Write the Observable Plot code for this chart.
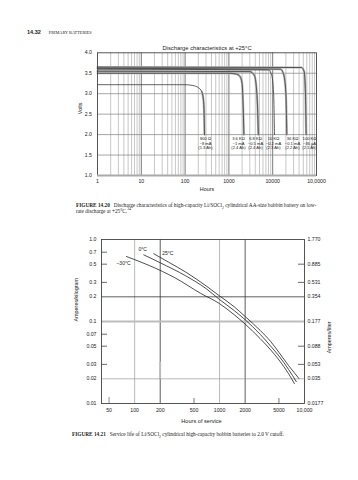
<!DOCTYPE html>
<html>
<head>
<meta charset="utf-8">
<script src="https://cdn.jsdelivr.net/npm/d3@7"></script>
<script src="https://cdn.jsdelivr.net/npm/@observablehq/plot@0.6"></script>
<style>
  html,body{margin:0;padding:0;background:#fff;}
  #page{position:relative;width:358px;height:480px;overflow:hidden;color:#222;}
  #page svg{position:absolute;left:0;}
  .t{position:absolute;white-space:nowrap;line-height:6px;color:#222;}
  .serif{font-family:"Liberation Serif","Times New Roman",serif;}
  .sans{font-family:"Liberation Sans",Arial,sans-serif;}
  sub,sup{font-size:70%;line-height:0;}
</style>
</head>
<body>
<div id="page">
  <div class="t" style="left:27px;top:26px;"><span class="sans" style="font-weight:bold;font-size:5.5px;">14.32</span><span class="serif" style="font-size:4.3px;margin-left:8px;">PRIMARY BATTERIES</span></div>
  <div class="t serif" style="left:76px;top:202px;font-size:5.3px;"><b>FIGURE 14.20</b>&nbsp;&nbsp; Discharge characteristics of high-capacity Li/SOCl<sub>2</sub> cylindrical AA-size bobbin battery on low-<br>rate discharge at +25°C.<sup>34</sup></div>
  <div class="t serif" style="left:72px;top:431px;font-size:5.3px;"><b>FIGURE 14.21</b>&nbsp;&nbsp; Service life of Li/SOCl<sub>2</sub> cylindrical high-capacity bobbin batteries to 2.0 V cutoff.</div>
</div>
<script>
// ---------- Figure 14.20 data ----------
const loads      = ["800 Ω", "3.6 KΩ", "6.8 KΩ", "10 KΩ", "36 KΩ", "100 KΩ"];
const currents   = ["~8 mA", "~1 mA", "~0.5 mA", "~0.2 mA", "~0.1 mA", "~36 µA"];
const capacities = ["(1.3 Ah)", "(2.4 Ah)", "(2.4 Ah)", "(2.3 Ah)", "(2.2 Ah)", "(2.1 Ah)"];
const curve800  = [[1,3.22],[100,3.22],[150,3.2],[200,3.15],[240,3.05],[262,2.85],[272,2.5],[277,2.0]];
const curve3k6  = [[1,3.5],[1000,3.5],[1500,3.48],[1800,3.42],[2000,3.25],[2100,2.8],[2200,2.0]];
const curve6k8  = [[1,3.55],[3000,3.54],[3800,3.45],[4200,3.2],[4500,2.7],[4700,2.0]];
const curve10k  = [[1,3.6],[8000,3.58],[9500,3.45],[10500,3.0],[11000,2.0]];
const curve36k  = [[1,3.62],[15000,3.6],[18000,3.45],[20000,3.0],[21000,2.0]];
const curve100k = [[1,3.65],[45000,3.64],[52000,3.55],[56000,3.0],[58000,2.0]];
const labelHours = [292, 1656, 4050, 10400, 28300, 69200];
const hourTicks = [1, 10, 100, 1000, 10000, 100000];
const hourTickLabels = ["1", "10", "100", "1000", "10000", "10,0000"];
const voltTicks = [1.0, 1.5, 2.0, 2.5, 3.0, 3.5, 4.0];

// ---------- Figure 14.21 data ----------
const tempLabels = ["25°C", "0°C", "–30°C"];
const life25  = [[168,0.67],[250,0.53],[400,0.40],[700,0.27],[1000,0.205],[1500,0.15],[2000,0.115],[3000,0.078],[4000,0.057],[5000,0.042],[6500,0.029],[8600,0.0202]];
const life0   = [[128,0.65],[200,0.52],[400,0.36],[700,0.25],[1000,0.185],[1500,0.135],[2000,0.105],[3000,0.07],[4000,0.05],[5000,0.038],[6500,0.026],[8000,0.0185]];
const lifeM30 = [[80,0.62],[150,0.48],[300,0.34],[600,0.22],[1000,0.165],[1500,0.12],[2000,0.093],[3000,0.062],[4000,0.045],[5000,0.034],[6500,0.023],[7600,0.0175]];
const serviceTicks = [50, 100, 200, 500, 1000, 2000, 5000, 10000];
const serviceTickLabels = ["50", "100", "200", "500", "1000", "2000", "5000", "10,000"];
const akgTicks = [1.0, 0.7, 0.5, 0.3, 0.2, 0.1, 0.07, 0.05, 0.03, 0.02, 0.01];
const akgTickLabels = ["1.0", "0.7", "0.5", "0.3", "0.2", "0.1", "0.07", "0.05", "0.03", "0.02", "0.01"];
const alTicksAkg = [1.0, 0.5, 0.3, 0.2, 0.1, 0.05, 0.03, 0.02, 0.01];
const alTickLabels = ["1.770", "0.885", "0.531", "0.354", "0.177", "0.088", "0.053", "0.035", "0.0177"];

const FONT = "Liberation Sans, Arial, Helvetica, sans-serif";
const page = document.getElementById("page");

// ---------- Top chart ----------
const curvesTop = [curve800, curve3k6, curve6k8, curve10k, curve36k, curve100k];
const topRows = curvesTop.flatMap((c, i) => c.map(([h, v]) => ({load: loads[i], h, v})));
const underlayRows = topRows.filter(d => d.load !== "10 KΩ" && (d.load !== "800 Ω" || d.h >= 240));
const minorHours = d3.range(0, 5).flatMap(k => d3.range(2, 10).map(m => m * 10 ** k));
const labelRows = loads.map((l, i) => ({at: labelHours[i], label: l + "\n" + currents[i] + "\n" + capacities[i]}));
const hourTickRows = hourTicks.map((h, i) => ({h, label: hourTickLabels[i]}));

const topPlot = Plot.plot({
  width: 358, height: 200,
  marginTop: 52.3, marginBottom: 25, marginLeft: 97, marginRight: 42,
  x: {type: "log", domain: [1, 100000], axis: null},
  y: {domain: [1, 4], axis: null},
  style: {fontFamily: FONT, fontSize: "5.2px", color: "#222", background: "none", overflow: "visible"},
  marks: [
    Plot.ruleX(minorHours, {stroke: "#9a9a9a", strokeWidth: 0.55}),
    Plot.ruleX([10, 100, 1000, 10000], {stroke: "#555", strokeWidth: 0.8}),
    Plot.ruleY([1.5, 2, 2.5, 3, 3.5], {stroke: "#808080", strokeWidth: 0.7}),
    Plot.line(underlayRows, {x: "h", y: "v", z: "load", stroke: "#b4b4b4", strokeWidth: 2.2, curve: "monotone-x"}),
    Plot.line(topRows, {x: "h", y: "v", z: "load", stroke: "#333", strokeWidth: 0.75, curve: "monotone-x"}),
    Plot.frame({stroke: "#444", strokeWidth: 0.9}),
    Plot.ruleY([1], {stroke: "#aaa", strokeWidth: 2}),
    Plot.tickY(voltTicks, {y: d => d, insetRight: 219, dx: -4, stroke: "#444", strokeWidth: 0.8}),
    Plot.text(voltTicks, {y: d => d, text: d => d.toFixed(1), frameAnchor: "left", dx: -5.5, textAnchor: "end"}),
    Plot.text(hourTickRows, {x: "h", text: "label", frameAnchor: "bottom", dy: 7}),
    Plot.text(["Volts"], {text: d => d, frameAnchor: "left", dx: -17.5, rotate: -90, fontSize: 5.4}),
    Plot.text(["Hours"], {text: d => d, frameAnchor: "bottom", dy: 15, fontSize: 5.4}),
    Plot.text(["Discharge characteristics at +25°C"], {text: d => d, frameAnchor: "top", dy: -7, fontSize: 5.8}),
    Plot.text(labelRows, {x: "at", text: "label", frameAnchor: "top", dy: 83.7, lineAnchor: "top", lineHeight: 1.16, fontSize: 4.1})
  ]
});
topPlot.style.top = "0px";
page.appendChild(topPlot);

// ---------- Bottom chart ----------
const lifeCurves = [life25, life0, lifeM30];
const lifeRows = lifeCurves.flatMap((c, i) => c.map(([h, a]) => ({temp: tempLabels[i], h, a})));
const serviceTickRows = serviceTicks.map((h, i) => ({h, label: serviceTickLabels[i]}));
const akgRows = akgTicks.map((a, i) => ({a, label: akgTickLabels[i]}));
const alRows = alTicksAkg.map((a, i) => ({a, label: alTickLabels[i]}));

const botPlot = Plot.plot({
  width: 358, height: 200,
  marginTop: 14, marginBottom: 22, marginLeft: 101, marginRight: 54,
  x: {type: "log", domain: [40.7, 10000], axis: null},
  y: {type: "log", domain: [0.01, 1], axis: null},
  style: {fontFamily: FONT, fontSize: "5.2px", color: "#222", background: "none", overflow: "visible"},
  marks: [
    Plot.ruleX([100, 1000], {stroke: "#999", strokeWidth: 0.7}),
    Plot.ruleX([200, 2000], {stroke: "#333", strokeWidth: 0.8}),
    Plot.ruleX([200], {y1: 0.0195, y2: 0.032, stroke: "#bbb", strokeWidth: 1.8}),
    Plot.ruleY([0.1], {stroke: "#bdbdbd", strokeWidth: 1.8}),
    Plot.ruleY([0.2], {stroke: "#333", strokeWidth: 0.8}),
    Plot.ruleY([0.02], {stroke: "#999", strokeWidth: 0.7}),
    Plot.tickY([0.7, 0.5, 0.3, 0.07, 0.05, 0.03], {y: d => d, insetRight: 197, stroke: "#444", strokeWidth: 0.8}),
    Plot.tickY([0.5, 0.3, 0.05, 0.03], {y: d => d, insetLeft: 197, stroke: "#444", strokeWidth: 0.8}),
    Plot.tickX([50], {x: d => d, insetTop: 158, stroke: "#bbb", strokeWidth: 1.6}),
    Plot.tickX([500, 5000], {x: d => d, insetTop: 159, stroke: "#555", strokeWidth: 0.8}),
    Plot.line(lifeRows, {x: "h", y: "a", z: "temp", stroke: "#222", strokeWidth: 0.8, curve: "monotone-x"}),
    Plot.frame({stroke: "#444", strokeWidth: 0.9}),
    Plot.text(akgRows, {y: "a", text: "label", frameAnchor: "left", dx: -5, textAnchor: "end"}),
    Plot.text(alRows, {y: "a", text: "label", frameAnchor: "right", dx: 3, textAnchor: "start"}),
    Plot.text(serviceTickRows, {x: "h", text: "label", frameAnchor: "bottom", dy: 8.7}),
    Plot.text(["Hours of service"], {text: d => d, frameAnchor: "bottom", dy: 19, dx: -1.5, fontSize: 5.6}),
    Plot.text(["Amperes/kilogram"], {text: d => d, frameAnchor: "left", dx: -25, rotate: -90, fontSize: 5.4}),
    Plot.text(["Amperes/liter"], {text: d => d, frameAnchor: "right", dx: 25, rotate: -90, fontSize: 5.4}),
    Plot.text([
      {h: 246, a: 0.675, t: tempLabels[0]},
      {h: 124, a: 0.755, t: tempLabels[1]},
      {h: 74,  a: 0.51,  t: tempLabels[2]}
    ], {x: "h", y: "a", text: "t", fontSize: 5})
  ]
});
botPlot.style.top = "225px";
page.appendChild(botPlot);
</script>
</body>
</html>
